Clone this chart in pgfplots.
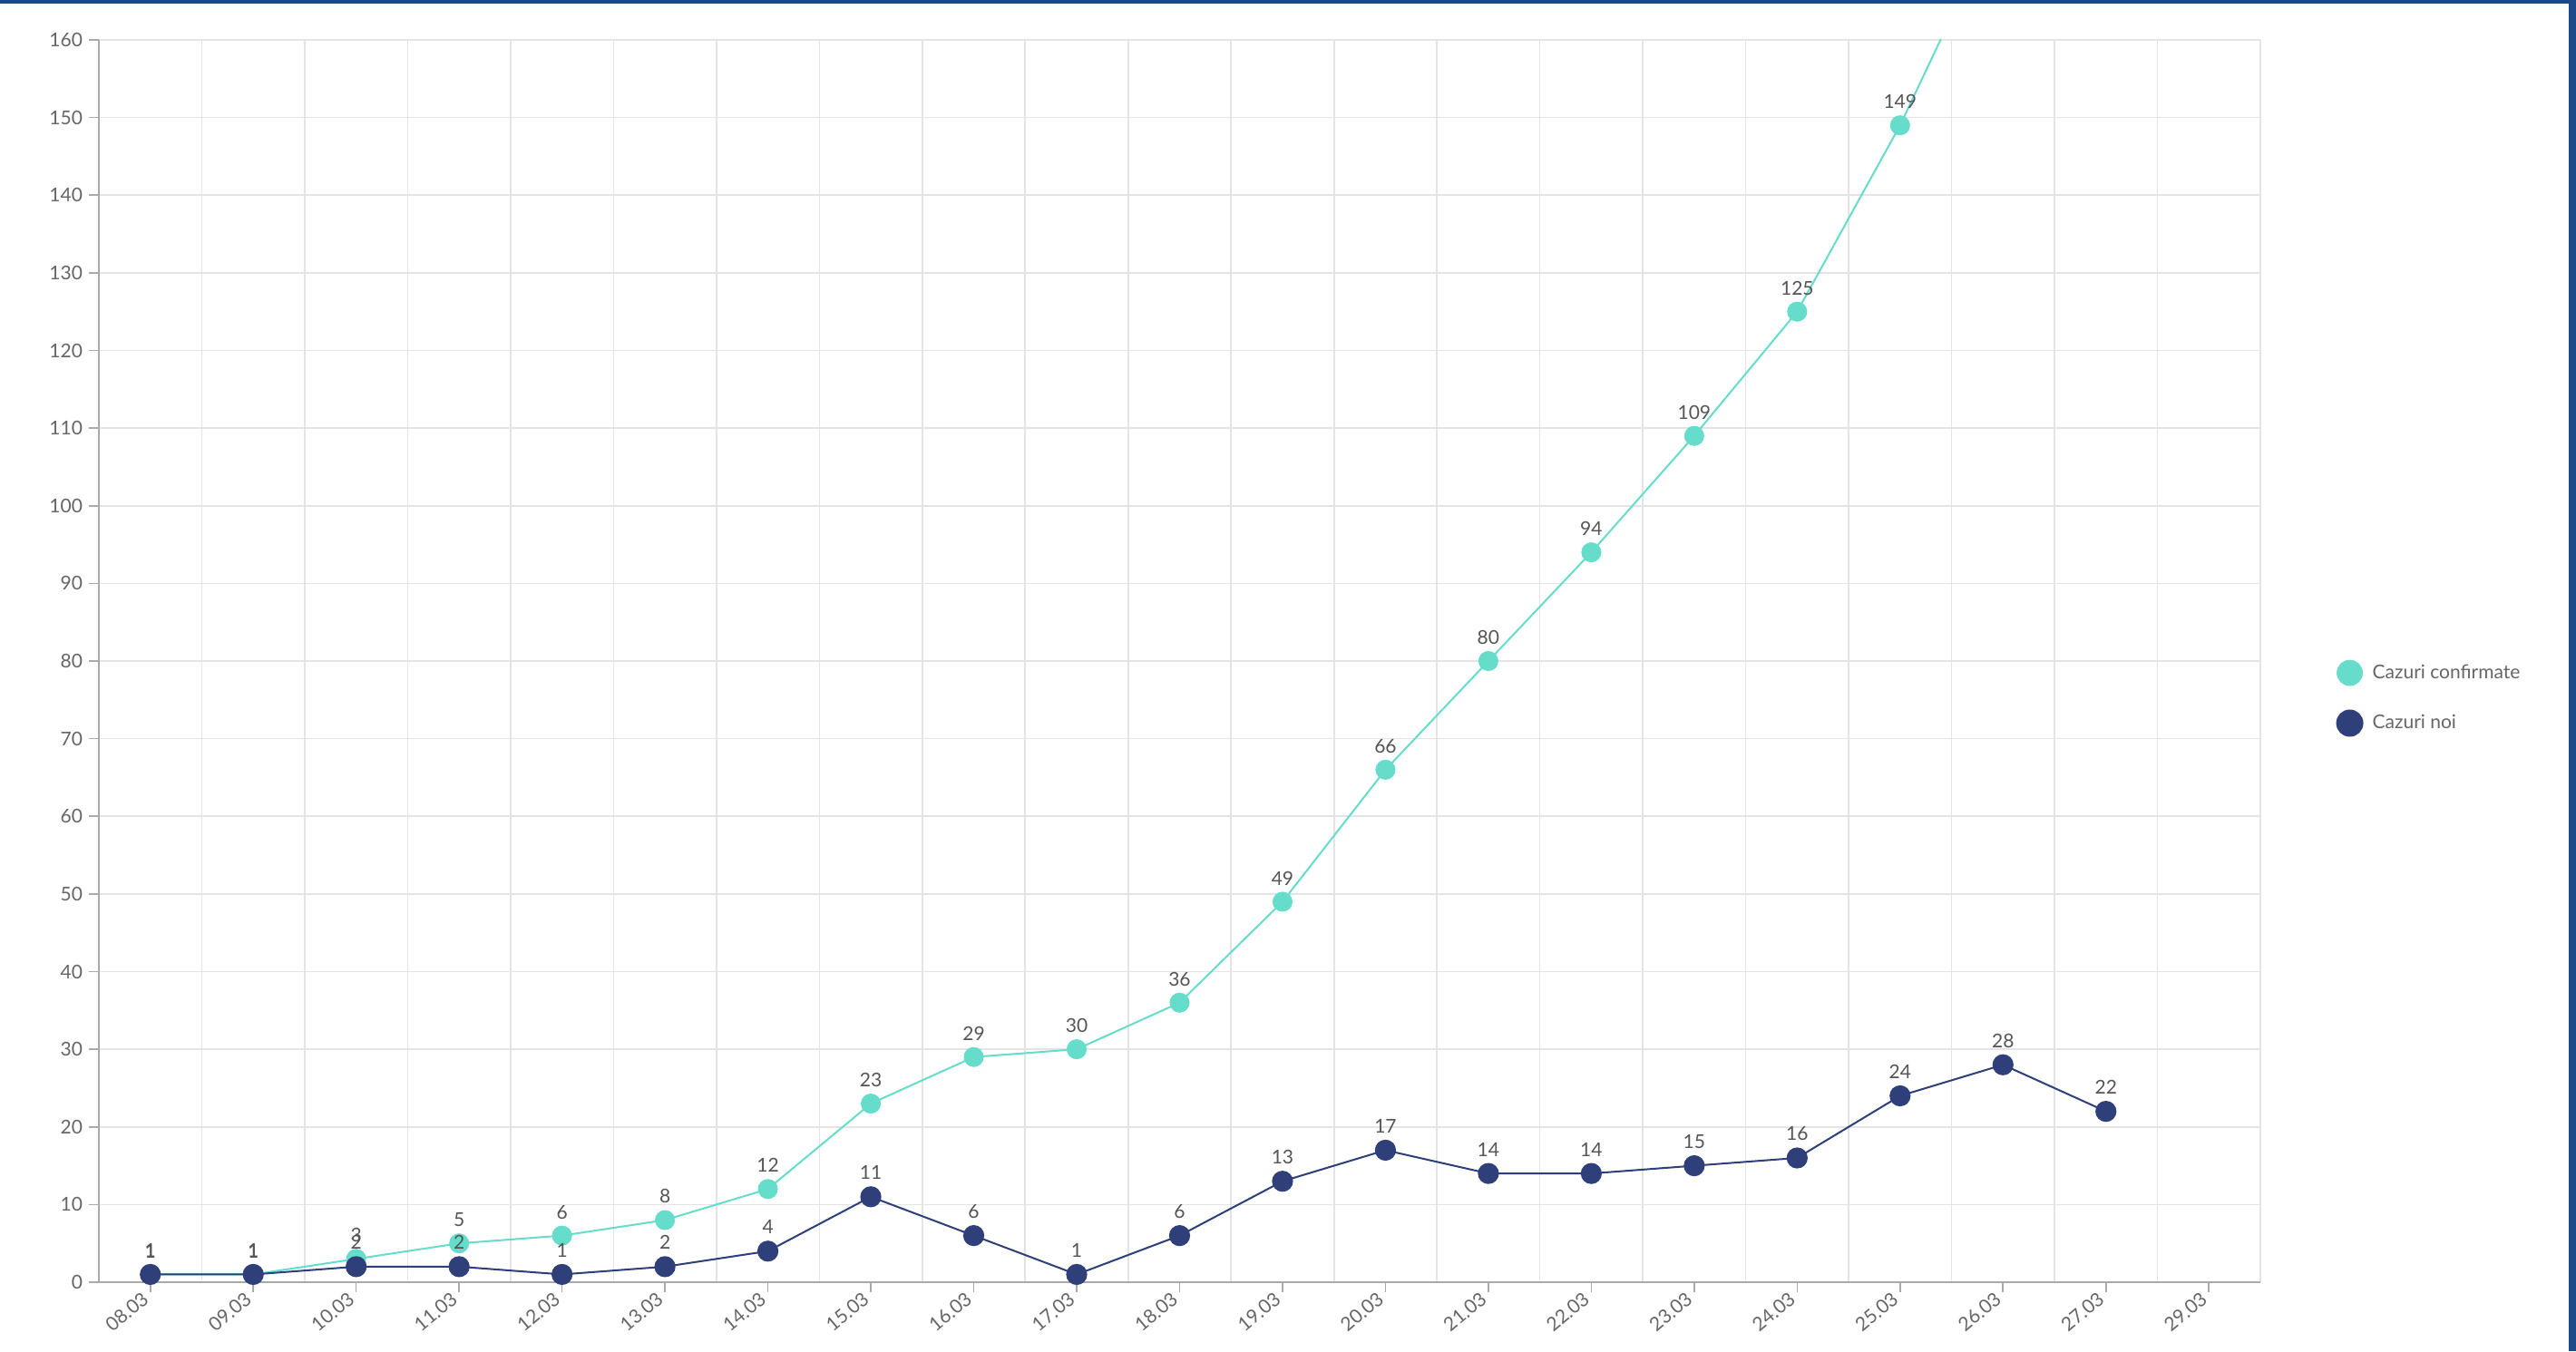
\documentclass[border=0pt]{standalone}
\usepackage{fontspec}
\setmainfont{Lato}
\usepackage{pgfplots}
\pgfplotsset{compat=1.18}
\definecolor{confc}{HTML}{65DDCA}
\definecolor{noic}{HTML}{2E3F7A}
\definecolor{gridc}{HTML}{E4E4E4}
\definecolor{axisc}{HTML}{AAAAAA}
\definecolor{labc}{HTML}{666666}
\definecolor{datc}{HTML}{555555}
\definecolor{borderc}{HTML}{1B4A8C}
\begin{document}
\begin{tikzpicture}
\path[use as bounding box] (0,0) rectangle (1420pt,745pt);
\fill[white] (0,0) rectangle (1420pt,745pt);
\begin{axis}[
  at={(54.5pt,38pt)}, anchor=south west,
  scale only axis, width=1191.5pt, height=685pt,
  xmin=-0.5, xmax=20.5, ymin=0, ymax=160,
  xtick={0,...,20},
  xticklabels={08.03,09.03,10.03,11.03,12.03,13.03,14.03,15.03,16.03,17.03,18.03,19.03,20.03,21.03,22.03,23.03,24.03,25.03,26.03,27.03,29.03},
  minor xtick={-0.5,0.5,...,20.5},
  ytick={0,10,...,160},
  xmajorgrids=false, xminorgrids=true, ymajorgrids=true,
  grid style={draw=gridc, line width=0.8pt},
  minor grid style={draw=gridc, line width=0.8pt},
  axis x line*=bottom, axis y line*=left,
  axis line style={draw=axisc, line width=1pt, -},
  tick align=outside, major tick length=5.5pt, minor tick length=0pt,
  major tick style={draw=axisc, line width=0.8pt},
  /pgf/number format/assume math mode=true,
  yticklabel style={font=\fontsize{10.5}{12}\selectfont, color=labc},
  xticklabel style={font=\fontsize{10.5}{12}\selectfont, color=labc, rotate=40, anchor=east},
  every node near coord/.append style={font=\fontsize{10.5}{12}\selectfont, color=datc, anchor=south, inner sep=0pt, yshift=9pt},
  legend image code/.code={\fill[#1] (0pt,0pt) circle (7pt);},
  legend style={at={(1.0324,0.47)}, anchor=west, draw=none, fill=none,
    font=\fontsize{10.5}{12}\selectfont, text=labc, row sep=13pt, column sep=4pt,
    nodes={inner sep=1pt}},
  legend cell align=left,
]
% confirmed: full line (clipped at top)
\addplot[confc, line width=1pt, mark=none, forget plot] coordinates {
(0,1)(1,1)(2,3)(3,5)(4,6)(5,8)(6,12)(7,23)(8,29)(9,30)(10,36)(11,49)(12,66)(13,80)(14,94)(15,109)(16,125)(17,149)(18,177)(19,199)};
% confirmed: visible marks and labels
\addplot[confc, only marks, mark=*, mark size=5.3pt, nodes near coords] coordinates {
(0,1)(1,1)(2,3)(3,5)(4,6)(5,8)(6,12)(7,23)(8,29)(9,30)(10,36)(11,49)(12,66)(13,80)(14,94)(15,109)(16,125)(17,149)};
\addlegendentry{Cazuri confirmate}
% new cases
\addplot[noic, line width=1pt, mark=*, mark size=5.3pt, nodes near coords] coordinates {
(0,1)(1,1)(2,2)(3,2)(4,1)(5,2)(6,4)(7,11)(8,6)(9,1)(10,6)(11,13)(12,17)(13,14)(14,14)(15,15)(16,16)(17,24)(18,28)(19,22)};
\addlegendentry{Cazuri noi}
\end{axis}
\fill[borderc] (0,743pt) rectangle (1420pt,745pt);
\fill[borderc] (1416pt,0) rectangle (1420pt,745pt);
\end{tikzpicture}
\end{document}
